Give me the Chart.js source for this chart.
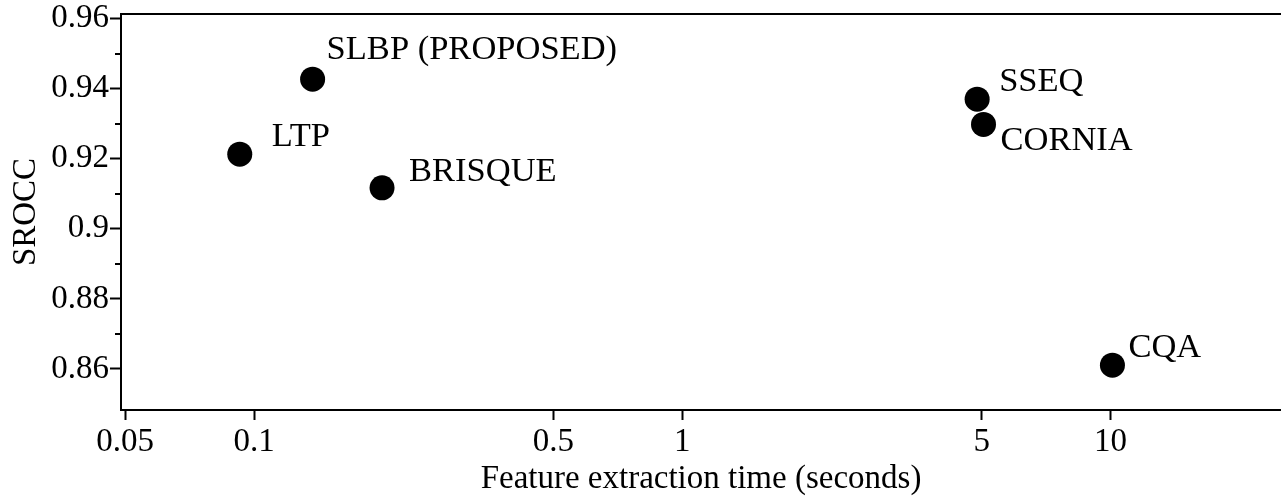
<!DOCTYPE html>
<html>
<head>
<meta charset="utf-8">
<script src="https://cdn.jsdelivr.net/npm/chart.js@4.4.1/dist/chart.umd.min.js"></script>
<style>
    html, body { margin: 0; padding: 0; background: #fff; overflow: hidden; }
    #wrap { width: 1281px; height: 497px; }
    canvas { display: block; }
</style>
</head>
<body>
<div id="wrap"><canvas id="srocc"></canvas></div>
<script>
// Valores
const methods = ['LTP', 'SLBP (PROPOSED)', 'BRISQUE', 'SSEQ', 'CORNIA', 'CQA'];
const extractionTime = [0.0926, 0.137, 0.199, 4.88, 5.05, 10.1];
const sroccValues = [0.9213, 0.9427, 0.9117, 0.9370, 0.9298, 0.8611];
const xTicks = [0.05, 0.1, 0.5, 1, 5, 10];
const yTicks = [0.86, 0.88, 0.9, 0.92, 0.94, 0.96];
const yMinorTicks = [0.87, 0.89, 0.91, 0.93, 0.95];

// Desplazamiento de cada etiqueta respecto a su punto (px)
const labelOffsets = [[32, -17], [14, -29], [27, -16], [22, -17], [17, 17], [16, -17]];

const serifFamily = '"Liberation Serif", "DejaVu Serif", serif';
const serif = { family: serifFamily, size: 33 };
const tickFont = { family: serifFamily, size: 33, lineHeight: 1 };
const labelSize = 34.5;

// Etiquetas de texto junto a cada punto
const pointLabels = {
    id: 'pointLabels',
    afterDatasetsDraw(chart) {
        const ctx = chart.ctx;
        const meta = chart.getDatasetMeta(0);
        ctx.save();
        ctx.font = labelSize + 'px ' + serifFamily;
        ctx.fillStyle = '#000';
        ctx.textAlign = 'left';
        ctx.textBaseline = 'middle';
        meta.data.forEach((pt, i) => {
            const off = labelOffsets[i];
            ctx.fillText(methods[i], pt.x + off[0], pt.y + off[1]);
        });
        ctx.restore();
    }
};

// Marcas menores del eje Y y borde superior
const axisExtras = {
    id: 'axisExtras',
    afterDraw(chart) {
        const ctx = chart.ctx;
        const area = chart.chartArea;
        const y = chart.scales.y;
        ctx.save();
        ctx.strokeStyle = '#000';
        ctx.lineWidth = 2;
        yMinorTicks.forEach(v => {
            const py = Math.round(y.getPixelForValue(v));
            ctx.beginPath();
            ctx.moveTo(area.left - 6, py);
            ctx.lineTo(area.left, py);
            ctx.stroke();
        });
        ctx.beginPath();
        ctx.moveTo(area.left - 1, area.top);
        ctx.lineTo(area.right, area.top);
        ctx.stroke();
        ctx.restore();
    }
};

const ctx = document.getElementById('srocc').getContext('2d');
const chart = new Chart(ctx, {
    type: 'scatter',
    data: {
        datasets: [{
            data: extractionTime.map((t, i) => ({ x: t, y: sroccValues[i] })),
            backgroundColor: '#000',
            borderWidth: 0,
            pointRadius: 12.5,
            pointHoverRadius: 12.5
        }]
    },
    options: {
        responsive: true,
        maintainAspectRatio: false,
        animation: false,
        layout: {
            autoPadding: false,
            padding: { top: 14, right: 0, left: 0, bottom: 0 }
        },
        plugins: {
            legend: { display: false },
            tooltip: { enabled: false }
        },
        scales: {
            x: {
                type: 'logarithmic',
                min: 0.0489,
                max: 25,
                afterBuildTicks: s => { s.ticks = xTicks.map(v => ({ value: v })); },
                afterFit: s => {
                    s.height = 87;
                    s.paddingLeft = 0;
                    s.paddingRight = 0;
                },
                ticks: {
                    callback: v => String(v),
                    font: serif,
                    color: '#000',
                    padding: 3,
                    maxRotation: 0,
                    autoSkip: false
                },
                grid: {
                    drawOnChartArea: false,
                    drawTicks: true,
                    tickLength: 10,
                    tickWidth: 2,
                    tickColor: '#000'
                },
                border: { display: true, color: '#000', width: 2 },
                title: {
                    display: true,
                    text: 'Feature extraction time (seconds)',
                    font: serif,
                    color: '#000',
                    padding: { top: 0, bottom: -2 }
                }
            },
            y: {
                min: 0.8483,
                max: 0.9613,
                afterBuildTicks: s => { s.ticks = yTicks.map(v => ({ value: v })); },
                afterFit: s => {
                    s.width = 121;
                    s.paddingTop = 0;
                    s.paddingBottom = 0;
                },
                ticks: {
                    callback: v => String(v),
                    font: tickFont,
                    color: '#000',
                    padding: 1
                },
                grid: {
                    drawOnChartArea: false,
                    drawTicks: true,
                    tickLength: 11,
                    tickWidth: 2,
                    tickColor: '#000'
                },
                border: { display: true, color: '#000', width: 2 },
                title: {
                    display: true,
                    text: 'SROCC',
                    font: serif,
                    color: '#000',
                    padding: { top: 7, bottom: 0 }
                }
            }
        }
    },
    plugins: [pointLabels, axisExtras]
});
</script>
</body>
</html>
